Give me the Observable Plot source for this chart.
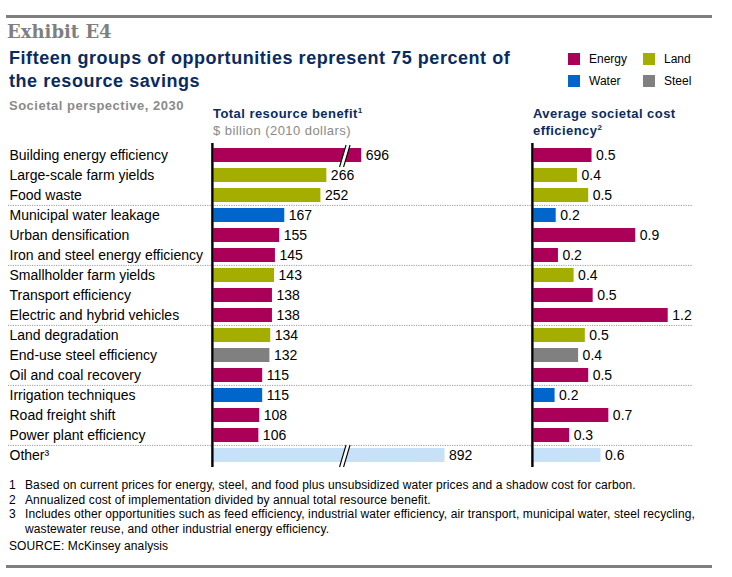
<!DOCTYPE html>
<html>
<head>
<meta charset="utf-8">
<script src="https://cdn.jsdelivr.net/npm/d3@7"></script>
<script src="https://cdn.jsdelivr.net/npm/@observablehq/plot@0.6"></script>
<style>
  html, body { margin: 0; padding: 0; background: #fff; }
  #page { position: relative; width: 732px; height: 577px; overflow: hidden; font-family: "Liberation Sans", Arial, sans-serif; color: #000; }
  .abs { position: absolute; white-space: nowrap; }
  .rule { position: absolute; background: #7f7f7f; }
  .exhibit { font-family: "DejaVu Serif", Georgia, serif; font-size: 18px; font-weight: bold; line-height: 20px; color: #7f7f7f; }
  .title { font-size: 18px; letter-spacing: 0.55px; font-weight: bold; line-height: 23px; color: #0a2b60; }
  .sub { font-size: 13px; letter-spacing: 0.5px; font-weight: bold; line-height: 14px; color: #8a8a8a; }
  .head { font-size: 13px; letter-spacing: 0.45px; font-weight: bold; line-height: 17px; color: #0a2b60; }
  .unit { font-size: 13px; letter-spacing: 0.45px; line-height: 17px; color: #8a8a8a; font-weight: normal; }
  sup { font-size: 8px; vertical-align: 5px; line-height: 0; letter-spacing: 0; }
  .leg { font-size: 12px; line-height: 14px; }
  .sw { position: absolute; width: 12px; height: 12px; }
  .foot { font-size: 12px; letter-spacing: 0.1px; line-height: 14.67px; }
  .foot .n { position: absolute; left: 0; }
  .foot .t { position: absolute; left: 16px; }
  svg { overflow: visible; }
</style>
</head>
<body>
<div id="page"></div>
<script>
// ---------- data ----------
const categories = [
  "Building energy efficiency", "Large-scale farm yields", "Food waste",
  "Municipal water leakage", "Urban densification", "Iron and steel energy efficiency",
  "Smallholder farm yields", "Transport efficiency", "Electric and hybrid vehicles",
  "Land degradation", "End-use steel efficiency", "Oil and coal recovery",
  "Irrigation techniques", "Road freight shift", "Power plant efficiency", "Other³"
];
const groups = [
  "Energy", "Land", "Land",
  "Water", "Energy", "Energy",
  "Land", "Energy", "Energy",
  "Land", "Steel", "Energy",
  "Water", "Energy", "Energy", "Other"
];
const benefit = [696, 266, 252, 167, 155, 145, 143, 138, 138, 134, 132, 115, 115, 108, 106, 892];
const costEfficiency = [0.52, 0.39, 0.49, 0.20, 0.91, 0.22, 0.36, 0.53, 1.20, 0.46, 0.40, 0.49, 0.19, 0.67, 0.32, 0.60];
const groupNames = ["Energy", "Land", "Water", "Steel", "Other"];
const groupColors = ["#ab0057", "#a4ae00", "#0066cc", "#808080", "#c7e1f9"];
const legendItems = ["Energy", "Land", "Water", "Steel"];
const separatorsBefore = ["Municipal water leakage", "Smallholder farm yields", "Land degradation", "Irrigation techniques", "Other³"];
const brokenRows = ["Building energy efficiency", "Other³"];
const breakStart = 306, breakEnd = 654;

const rows = categories.map((c, i) => ({label: c, group: groups[i], benefit: benefit[i], cost: costEfficiency[i]}));

// ---------- static text ----------
const page = document.getElementById("page");
function add(html, cls, left, top, extra = "") {
  const d = document.createElement("div");
  d.className = "abs " + cls;
  d.style.cssText = `left:${left}px;top:${top}px;${extra}`;
  d.innerHTML = html;
  page.appendChild(d);
  return d;
}
const r1 = document.createElement("div"); r1.className = "rule"; r1.style.cssText = "left:6px;top:15px;width:706px;height:2.5px"; page.appendChild(r1);
const r2 = document.createElement("div"); r2.className = "rule"; r2.style.cssText = "left:6px;top:565px;width:706px;height:2.5px"; page.appendChild(r2);

add("Exhibit E4", "exhibit", 7, 22);
add("Fifteen groups of opportunities represent 75 percent of<br>the resource savings", "title", 9, 47);
add("Societal perspective, 2030", "sub", 9, 99);
add("Total resource benefit<sup>1</sup><br><span class='unit'>$ billion (2010 dollars)</span>", "head", 213, 105);
add("Average societal cost<br>efficiency<sup>2</sup>", "head", 533, 105);

// legend
const legPos = [[568, 53], [643, 53], [568, 75], [643, 75]];
legendItems.forEach((g, i) => {
  const [lx, ly] = legPos[i];
  const s = document.createElement("div");
  s.className = "sw";
  s.style.cssText = `left:${lx}px;top:${ly}px;background:${groupColors[groupNames.indexOf(g)]}`;
  page.appendChild(s);
  add(g, "leg", lx + 21, ly - 1);
});

// footnotes
const foot = add("", "foot", 9, 478, "width:710px;height:80px");
const footLines = [
  ["1", "Based on current prices for energy, steel, and food plus unsubsidized water prices and a shadow cost for carbon."],
  ["2", "Annualized cost of implementation divided by annual total resource benefit."],
  ["3", "Includes other opportunities such as feed efficiency, industrial water efficiency, air transport, municipal water, steel recycling,"],
  ["", "wastewater reuse, and other industrial energy efficiency."]
];
footLines.forEach(([n, t], i) => {
  const top = i * 14.67;
  foot.insertAdjacentHTML("beforeend", `<span class="n" style="top:${top}px">${n}</span><span class="t" style="top:${top}px">${t}</span>`);
});
foot.insertAdjacentHTML("beforeend", `<span class="n" style="top:61px">SOURCE: McKinsey analysis</span>`);

// ---------- charts ----------
const font = "'Liberation Sans', Arial, sans-serif";
const yOpts = {domain: categories, paddingInner: 0.28, paddingOuter: 0.14, axis: null};
const colorOpts = {domain: groupNames, range: groupColors};
const labelStyle = {fill: "black", fontSize: 14};

function breakMark(rowsToBreak, value) {
  return (index, scales) => {
    const g = d3.create("svg:g");
    const x0 = scales.x(value);
    const bw = typeof scales.y.bandwidth === "function" ? scales.y.bandwidth() : 0;
    for (const r of rowsToBreak) {
      const cy = scales.y(r) + bw / 2;
      const t = cy - 10, b = cy + 12;
      g.append("path")
        .attr("d", `M${x0 + 2.7},${t}L${x0 + 6.7},${t}L${x0 + 0.2},${b}L${x0 - 3.8},${b}Z`)
        .attr("fill", "white");
      g.append("path").attr("d", `M${x0 + 2.7},${t}L${x0 - 3.8},${b}`).attr("stroke", "black").attr("stroke-width", 1.1);
      g.append("path").attr("d", `M${x0 + 6.7},${t}L${x0 + 0.2},${b}`).attr("stroke", "black").attr("stroke-width", 1.1);
    }
    return g.node();
  };
}

// broken axis: values beyond the break are shifted left by the skipped span
const skipBreak = v => v > breakEnd ? v - (breakEnd - breakStart) : v > breakStart ? breakStart : v;

const left = Plot.plot({
  width: 520, height: 324,
  marginLeft: 213, marginRight: 0, marginTop: 0, marginBottom: 0,
  x: {domain: [0, 652], range: [213.3, 490.4], transform: skipBreak, axis: null},
  y: yOpts,
  color: colorOpts,
  style: {fontFamily: font, fontSize: "14px", background: "transparent", overflow: "visible"},
  marks: [
    Plot.ruleY(separatorsBefore, {y: d => d, dy: -10.125, stroke: "#9a9a9a", strokeDasharray: "1.2,1.2", insetLeft: -205}),
    Plot.barX(rows, {x: "benefit", y: "label", fill: "group"}),
    breakMark(brokenRows, breakStart),
    Plot.ruleX([0], {stroke: "black", strokeWidth: 2.4, dx: -1.4}),
    Plot.text(rows, {x: "benefit", y: "label", text: d => String(d.benefit), dx: 4, textAnchor: "start", ...labelStyle}),
    Plot.text(rows, {y: "label", text: "label", frameAnchor: "left", dx: -204, textAnchor: "start", ...labelStyle})
  ]
});
left.style.position = "absolute"; left.style.left = "0px"; left.style.top = "143px";
page.appendChild(left);

const right = Plot.plot({
  width: 212, height: 324,
  marginLeft: 13, marginRight: 39, marginTop: 0, marginBottom: 0,
  x: {domain: [0, 1], range: [13.3, 125.3], axis: null},
  y: yOpts,
  color: colorOpts,
  style: {fontFamily: font, fontSize: "14px", background: "transparent", overflow: "visible"},
  marks: [
    Plot.ruleY(separatorsBefore, {y: d => d, dy: -10.125, stroke: "#9a9a9a", strokeDasharray: "1.2,1.2", insetLeft: -13}),
    Plot.barX(rows, {x: "cost", y: "label", fill: "group"}),
    Plot.ruleX([0], {stroke: "black", strokeWidth: 2.4, dx: -1.4}),
    Plot.text(rows, {x: "cost", y: "label", text: d => d.cost.toFixed(1), dx: 4, textAnchor: "start", ...labelStyle})
  ]
});
right.style.position = "absolute"; right.style.left = "520px"; right.style.top = "143px";
page.appendChild(right);
</script>
</body>
</html>
